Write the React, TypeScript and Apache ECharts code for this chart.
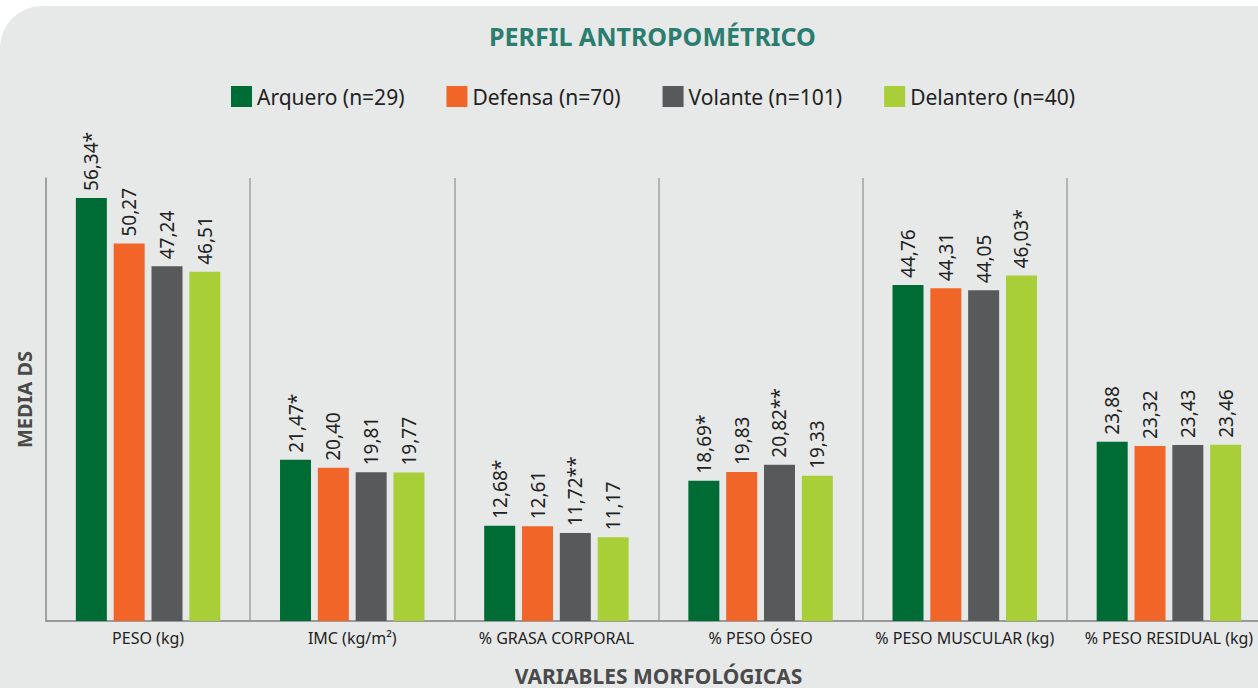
import React, { useEffect, useRef } from "react";
import * as echarts from "echarts";

const categories = [
  "PESO (kg)",
  "IMC (kg/m²)",
  "% GRASA CORPORAL",
  "% PESO ÓSEO",
  "% PESO MUSCULAR (kg)",
  "% PESO RESIDUAL (kg)",
];
const seriesNames = ["Arquero (n=29)", "Defensa (n=70)", "Volante (n=101)", "Delantero (n=40)"];
const arquero = [56.34, 21.47, 12.68, 18.69, 44.76, 23.88];
const defensa = [50.27, 20.4, 12.61, 19.83, 44.31, 23.32];
const volante = [47.24, 19.81, 11.72, 20.82, 44.05, 23.43];
const delantero = [46.51, 19.77, 11.17, 19.33, 46.03, 23.46];
const arqueroMarks = ["*", "*", "*", "*", "", ""];
const defensaMarks = ["", "", "", "", "", ""];
const volanteMarks = ["", "", "**", "**", "", ""];
const delanteroMarks = ["", "", "", "", "*", ""];
const colors = ["#006c35", "#f26529", "#58595b", "#a8cf38"];

const FONT = "'Noto Sans', sans-serif";

export default function App() {
  const ref = useRef<HTMLDivElement>(null);
  useEffect(() => {
    document.body.style.margin = "0";
    if (!ref.current) return;
    const chart = echarts.init(ref.current, null, { renderer: "svg" });
    const values = [arquero, defensa, volante, delantero];
    const marks = [arqueroMarks, defensaMarks, volanteMarks, delanteroMarks];
    chart.setOption({
      animation: false,
      textStyle: { fontFamily: FONT },
      title: {
        text: "PERFIL ANTROPOMÉTRICO",
        left: 484,
        top: 18,
        textStyle: { color: "#2a7d6f", fontSize: 25, fontWeight: "bold", fontFamily: FONT },
      },
      legend: {
        top: 81,
        left: 226,
        itemWidth: 21,
        itemHeight: 21,
        itemGap: 42,
        icon: "rect",
        textStyle: { color: "#222", fontSize: 21, fontFamily: FONT },
        data: seriesNames,
      },
      grid: { left: 46, right: -13, top: 178, bottom: 67, containLabel: false, outerBoundsMode: "none" },
      xAxis: {
        type: "category",
        data: categories,
        name: "VARIABLES MORFOLÓGICAS",
        nameLocation: "middle",
        nameGap: 44,
        nameTextStyle: { color: "#4a4a4a", fontSize: 21, fontWeight: "bold", fontFamily: FONT, lineHeight: 21 },
        axisLine: { lineStyle: { color: "#9a9a9a", width: 2 } },
        axisTick: { show: false },
        axisLabel: { color: "#222", fontSize: 16, margin: 9, interval: 0, fontFamily: FONT },
        splitLine: { show: true, interval: 0, lineStyle: { color: "#a0a0a0", width: 1.5 } },
      },
      yAxis: {
        type: "value",
        min: 0,
        max: 59,
        name: "MEDIA DS",
        nameLocation: "middle",
        nameGap: 12,
        nameTextStyle: { color: "#4a4a4a", fontSize: 20, fontWeight: "bold", fontFamily: FONT },
        axisLine: { show: true, lineStyle: { color: "#9a9a9a", width: 1.5 } },
        axisTick: { show: false },
        axisLabel: { show: false },
        splitLine: { show: false },
      },
      series: seriesNames.map((name, i) => ({
        name,
        type: "bar",
        barWidth: 31,
        barGap: "22%",
        itemStyle: { color: colors[i] },
        data: values[i],
        label: {
          show: true,
          position: "top",
          rotate: 90,
          align: "left",
          verticalAlign: "middle",
          distance: 7,
          color: "#222",
          fontSize: 19,
          fontFamily: FONT,
          formatter: (p: any) => values[i][p.dataIndex].toFixed(2).replace(".", ",") + marks[i][p.dataIndex],
        },
      })),
    });
    return () => chart.dispose();
  }, []);
  return (
    <div style={{ width: 1258, height: 688, background: "#fff", position: "relative", overflow: "hidden" }}>
      <div
        style={{
          position: "absolute",
          left: 0,
          top: 6,
          width: 1258,
          height: 682,
          background: "#e7e9e8",
          borderTopLeftRadius: 42,
        }}
      />
      <div ref={ref} style={{ position: "absolute", left: 0, top: 0, width: 1258, height: 688 }} />
    </div>
  );
}
